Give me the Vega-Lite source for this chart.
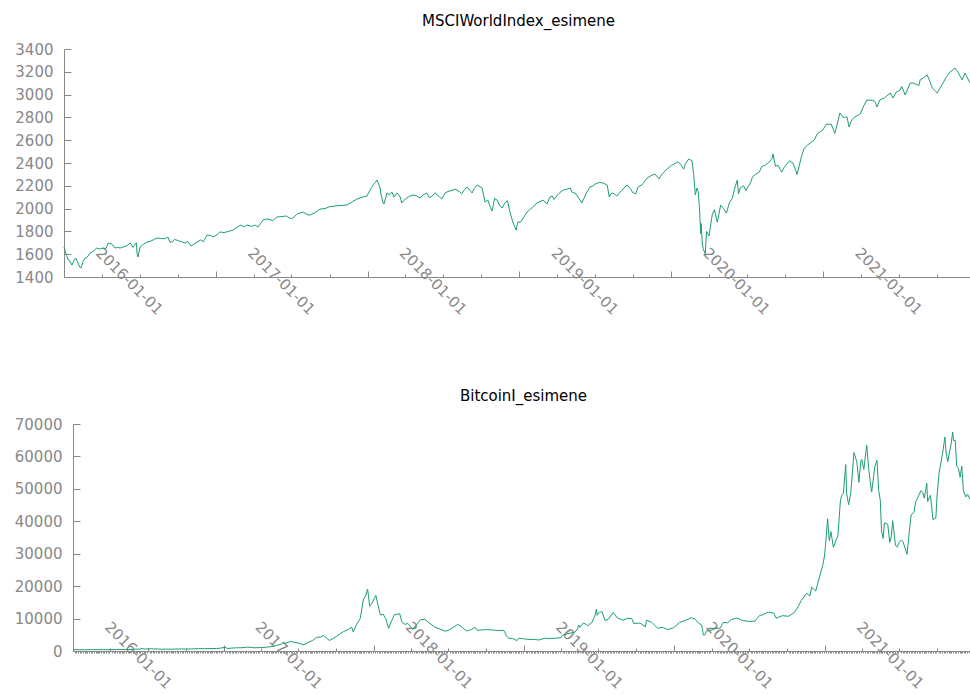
{
  "$schema": "https://vega.github.io/schema/vega-lite/v6.json",
  "padding": {"left": 14, "top": 14, "right": 0, "bottom": 0},
  "config": {
    "view": {"stroke": null},
    "font": "DejaVu Sans",
    "axis": {"labelColor": "#888888", "domainColor": "#888888", "tickColor": "#888888", "labelFontSize": 15, "grid": false, "title": null, "labelFont": "DejaVu Sans"},
    "title": {"fontSize": 15, "fontWeight": "normal", "color": "#000000", "font": "DejaVu Sans", "offset": 13}
  },
  "datasets": {
    "msci": [
      {"date": "2016-01-01", "value": 1663}, {"date": "2016-01-07", "value": 1590}, {"date": "2016-01-11", "value": 1549}, {"date": "2016-01-15", "value": 1540}, {"date": "2016-01-20", "value": 1505}, {"date": "2016-01-25", "value": 1545}, {"date": "2016-01-29", "value": 1567}, {"date": "2016-02-03", "value": 1530}, {"date": "2016-02-08", "value": 1485}, {"date": "2016-02-11", "value": 1479}, {"date": "2016-02-16", "value": 1535}, {"date": "2016-02-21", "value": 1567}, {"date": "2016-02-26", "value": 1575}, {"date": "2016-03-04", "value": 1610}, {"date": "2016-03-11", "value": 1625}, {"date": "2016-03-20", "value": 1654}, {"date": "2016-03-28", "value": 1645}, {"date": "2016-04-04", "value": 1654}, {"date": "2016-04-11", "value": 1650}, {"date": "2016-04-16", "value": 1698}, {"date": "2016-04-25", "value": 1690}, {"date": "2016-05-03", "value": 1654}, {"date": "2016-05-09", "value": 1660}, {"date": "2016-05-15", "value": 1654}, {"date": "2016-05-24", "value": 1665}, {"date": "2016-06-03", "value": 1680}, {"date": "2016-06-08", "value": 1700}, {"date": "2016-06-15", "value": 1660}, {"date": "2016-06-23", "value": 1700}, {"date": "2016-06-25", "value": 1600}, {"date": "2016-06-27", "value": 1575}, {"date": "2016-07-02", "value": 1663}, {"date": "2016-07-11", "value": 1690}, {"date": "2016-07-19", "value": 1707}, {"date": "2016-07-28", "value": 1715}, {"date": "2016-08-05", "value": 1730}, {"date": "2016-08-12", "value": 1742}, {"date": "2016-08-22", "value": 1738}, {"date": "2016-08-30", "value": 1735}, {"date": "2016-09-07", "value": 1750}, {"date": "2016-09-12", "value": 1705}, {"date": "2016-09-17", "value": 1707}, {"date": "2016-09-23", "value": 1730}, {"date": "2016-10-01", "value": 1720}, {"date": "2016-10-11", "value": 1707}, {"date": "2016-10-18", "value": 1698}, {"date": "2016-10-25", "value": 1712}, {"date": "2016-11-02", "value": 1672}, {"date": "2016-11-09", "value": 1690}, {"date": "2016-11-16", "value": 1707}, {"date": "2016-11-25", "value": 1725}, {"date": "2016-12-02", "value": 1710}, {"date": "2016-12-10", "value": 1768}, {"date": "2016-12-18", "value": 1765}, {"date": "2016-12-25", "value": 1750},
      {"date": "2017-01-03", "value": 1770}, {"date": "2017-01-10", "value": 1795}, {"date": "2017-01-20", "value": 1790}, {"date": "2017-01-31", "value": 1800}, {"date": "2017-02-11", "value": 1812}, {"date": "2017-02-20", "value": 1835}, {"date": "2017-03-01", "value": 1855}, {"date": "2017-03-10", "value": 1840}, {"date": "2017-03-16", "value": 1856}, {"date": "2017-03-27", "value": 1845}, {"date": "2017-04-05", "value": 1855}, {"date": "2017-04-12", "value": 1839}, {"date": "2017-04-24", "value": 1900}, {"date": "2017-05-05", "value": 1910}, {"date": "2017-05-17", "value": 1895}, {"date": "2017-05-27", "value": 1926}, {"date": "2017-06-06", "value": 1930}, {"date": "2017-06-19", "value": 1935}, {"date": "2017-06-29", "value": 1912}, {"date": "2017-07-05", "value": 1917}, {"date": "2017-07-14", "value": 1950}, {"date": "2017-07-29", "value": 1970}, {"date": "2017-08-10", "value": 1945}, {"date": "2017-08-15", "value": 1944}, {"date": "2017-08-25", "value": 1960}, {"date": "2017-09-08", "value": 1996}, {"date": "2017-09-20", "value": 2000}, {"date": "2017-10-02", "value": 2018}, {"date": "2017-10-20", "value": 2025}, {"date": "2017-11-12", "value": 2032}, {"date": "2017-11-25", "value": 2060}, {"date": "2017-12-06", "value": 2084}, {"date": "2017-12-18", "value": 2100}, {"date": "2017-12-30", "value": 2110},
      {"date": "2018-01-06", "value": 2160}, {"date": "2018-01-10", "value": 2185}, {"date": "2018-01-15", "value": 2210}, {"date": "2018-01-19", "value": 2230}, {"date": "2018-01-23", "value": 2251}, {"date": "2018-01-30", "value": 2189}, {"date": "2018-02-02", "value": 2120}, {"date": "2018-02-07", "value": 2049}, {"date": "2018-02-09", "value": 2040}, {"date": "2018-02-16", "value": 2137}, {"date": "2018-02-22", "value": 2120}, {"date": "2018-02-28", "value": 2145}, {"date": "2018-03-05", "value": 2100}, {"date": "2018-03-12", "value": 2137}, {"date": "2018-03-19", "value": 2110}, {"date": "2018-03-24", "value": 2049}, {"date": "2018-03-28", "value": 2070}, {"date": "2018-04-05", "value": 2093}, {"date": "2018-04-12", "value": 2110}, {"date": "2018-04-20", "value": 2119}, {"date": "2018-04-27", "value": 2115}, {"date": "2018-05-07", "value": 2093}, {"date": "2018-05-14", "value": 2120}, {"date": "2018-05-23", "value": 2137}, {"date": "2018-05-29", "value": 2095}, {"date": "2018-06-05", "value": 2110}, {"date": "2018-06-12", "value": 2140}, {"date": "2018-06-17", "value": 2119}, {"date": "2018-06-22", "value": 2105}, {"date": "2018-06-28", "value": 2085}, {"date": "2018-07-06", "value": 2137}, {"date": "2018-07-13", "value": 2150}, {"date": "2018-07-25", "value": 2163}, {"date": "2018-07-31", "value": 2170}, {"date": "2018-08-11", "value": 2145}, {"date": "2018-08-15", "value": 2130}, {"date": "2018-08-20", "value": 2160}, {"date": "2018-08-28", "value": 2189}, {"date": "2018-09-06", "value": 2150}, {"date": "2018-09-09", "value": 2137}, {"date": "2018-09-14", "value": 2175}, {"date": "2018-09-21", "value": 2207}, {"date": "2018-10-03", "value": 2181}, {"date": "2018-10-10", "value": 2058}, {"date": "2018-10-17", "value": 2075}, {"date": "2018-10-23", "value": 2010}, {"date": "2018-10-27", "value": 1979}, {"date": "2018-10-30", "value": 2030}, {"date": "2018-11-02", "value": 2090}, {"date": "2018-11-08", "value": 2075}, {"date": "2018-11-14", "value": 2030}, {"date": "2018-11-20", "value": 2005}, {"date": "2018-11-27", "value": 2049}, {"date": "2018-12-03", "value": 2070}, {"date": "2018-12-09", "value": 1970}, {"date": "2018-12-16", "value": 1882}, {"date": "2018-12-24", "value": 1812}, {"date": "2018-12-28", "value": 1882},
      {"date": "2019-01-03", "value": 1880}, {"date": "2019-01-07", "value": 1900}, {"date": "2019-01-19", "value": 1970}, {"date": "2019-01-25", "value": 1990}, {"date": "2019-02-01", "value": 2010}, {"date": "2019-02-12", "value": 2049}, {"date": "2019-02-27", "value": 2075}, {"date": "2019-03-08", "value": 2040}, {"date": "2019-03-15", "value": 2101}, {"date": "2019-03-21", "value": 2110}, {"date": "2019-03-25", "value": 2080}, {"date": "2019-04-05", "value": 2130}, {"date": "2019-04-16", "value": 2163}, {"date": "2019-04-25", "value": 2170}, {"date": "2019-05-03", "value": 2181}, {"date": "2019-05-08", "value": 2140}, {"date": "2019-05-15", "value": 2137}, {"date": "2019-05-24", "value": 2090}, {"date": "2019-05-31", "value": 2049}, {"date": "2019-06-12", "value": 2145}, {"date": "2019-06-20", "value": 2190}, {"date": "2019-06-28", "value": 2200}, {"date": "2019-07-02", "value": 2216}, {"date": "2019-07-12", "value": 2230}, {"date": "2019-07-21", "value": 2225}, {"date": "2019-07-31", "value": 2207}, {"date": "2019-08-05", "value": 2101}, {"date": "2019-08-09", "value": 2130}, {"date": "2019-08-14", "value": 2137}, {"date": "2019-08-23", "value": 2110}, {"date": "2019-08-31", "value": 2145}, {"date": "2019-09-04", "value": 2160}, {"date": "2019-09-17", "value": 2207}, {"date": "2019-09-26", "value": 2170}, {"date": "2019-10-01", "value": 2137}, {"date": "2019-10-08", "value": 2130}, {"date": "2019-10-13", "value": 2189}, {"date": "2019-10-23", "value": 2210}, {"date": "2019-11-04", "value": 2268}, {"date": "2019-11-14", "value": 2290}, {"date": "2019-11-23", "value": 2303}, {"date": "2019-12-03", "value": 2260}, {"date": "2019-12-05", "value": 2277}, {"date": "2019-12-12", "value": 2310}, {"date": "2019-12-20", "value": 2340},
      {"date": "2020-01-02", "value": 2380}, {"date": "2020-01-08", "value": 2390}, {"date": "2020-01-17", "value": 2410}, {"date": "2020-01-24", "value": 2390}, {"date": "2020-01-31", "value": 2345}, {"date": "2020-02-04", "value": 2390}, {"date": "2020-02-12", "value": 2435}, {"date": "2020-02-20", "value": 2420}, {"date": "2020-02-24", "value": 2300}, {"date": "2020-02-28", "value": 2120}, {"date": "2020-03-03", "value": 2180}, {"date": "2020-03-06", "value": 2150}, {"date": "2020-03-09", "value": 2010}, {"date": "2020-03-12", "value": 1780}, {"date": "2020-03-13", "value": 1870}, {"date": "2020-03-16", "value": 1690}, {"date": "2020-03-18", "value": 1650}, {"date": "2020-03-23", "value": 1602}, {"date": "2020-03-26", "value": 1800}, {"date": "2020-04-01", "value": 1760}, {"date": "2020-04-06", "value": 1880}, {"date": "2020-04-09", "value": 1950}, {"date": "2020-04-14", "value": 1990}, {"date": "2020-04-21", "value": 1880}, {"date": "2020-04-29", "value": 2030}, {"date": "2020-05-06", "value": 2000}, {"date": "2020-05-13", "value": 1960}, {"date": "2020-05-20", "value": 2050}, {"date": "2020-05-27", "value": 2090}, {"date": "2020-06-02", "value": 2180}, {"date": "2020-06-08", "value": 2250}, {"date": "2020-06-11", "value": 2130}, {"date": "2020-06-15", "value": 2180}, {"date": "2020-06-23", "value": 2200}, {"date": "2020-06-29", "value": 2160}, {"date": "2020-07-10", "value": 2230}, {"date": "2020-07-15", "value": 2280}, {"date": "2020-07-22", "value": 2300}, {"date": "2020-07-31", "value": 2320}, {"date": "2020-08-06", "value": 2370}, {"date": "2020-08-14", "value": 2380}, {"date": "2020-08-24", "value": 2410}, {"date": "2020-08-31", "value": 2440}, {"date": "2020-09-02", "value": 2480}, {"date": "2020-09-08", "value": 2370}, {"date": "2020-09-14", "value": 2380}, {"date": "2020-09-23", "value": 2320}, {"date": "2020-09-30", "value": 2370}, {"date": "2020-10-12", "value": 2420}, {"date": "2020-10-20", "value": 2400}, {"date": "2020-10-30", "value": 2300}, {"date": "2020-11-09", "value": 2450}, {"date": "2020-11-16", "value": 2530}, {"date": "2020-11-25", "value": 2560}, {"date": "2020-12-10", "value": 2600}, {"date": "2020-12-18", "value": 2660}, {"date": "2020-12-31", "value": 2690},
      {"date": "2021-01-08", "value": 2740}, {"date": "2021-01-20", "value": 2740}, {"date": "2021-01-29", "value": 2660}, {"date": "2021-02-10", "value": 2839}, {"date": "2021-02-18", "value": 2800}, {"date": "2021-02-27", "value": 2804}, {"date": "2021-03-04", "value": 2716}, {"date": "2021-03-11", "value": 2780}, {"date": "2021-03-18", "value": 2804}, {"date": "2021-03-31", "value": 2830}, {"date": "2021-04-08", "value": 2900}, {"date": "2021-04-16", "value": 2953}, {"date": "2021-04-30", "value": 2950}, {"date": "2021-05-05", "value": 2940}, {"date": "2021-05-10", "value": 2891}, {"date": "2021-05-17", "value": 2953}, {"date": "2021-05-28", "value": 2970}, {"date": "2021-06-11", "value": 3014}, {"date": "2021-06-18", "value": 2970}, {"date": "2021-06-25", "value": 3020}, {"date": "2021-07-05", "value": 3040}, {"date": "2021-07-09", "value": 3070}, {"date": "2021-07-17", "value": 2996}, {"date": "2021-07-29", "value": 3102}, {"date": "2021-08-06", "value": 3100}, {"date": "2021-08-19", "value": 3080}, {"date": "2021-08-22", "value": 3128}, {"date": "2021-08-31", "value": 3150}, {"date": "2021-09-08", "value": 3172}, {"date": "2021-09-14", "value": 3120}, {"date": "2021-09-20", "value": 3060}, {"date": "2021-09-28", "value": 3030}, {"date": "2021-10-02", "value": 3014}, {"date": "2021-10-08", "value": 3050}, {"date": "2021-10-16", "value": 3102}, {"date": "2021-10-25", "value": 3160}, {"date": "2021-11-02", "value": 3198}, {"date": "2021-11-08", "value": 3215}, {"date": "2021-11-14", "value": 3233}, {"date": "2021-11-21", "value": 3198}, {"date": "2021-12-01", "value": 3128}, {"date": "2021-12-08", "value": 3189}, {"date": "2021-12-20", "value": 3102}
    ],
    "btc": [
      {"date": "2016-01-01", "value": 430}, {"date": "2016-01-15", "value": 380}, {"date": "2016-02-01", "value": 375}, {"date": "2016-02-15", "value": 405}, {"date": "2016-03-01", "value": 430}, {"date": "2016-03-15", "value": 415}, {"date": "2016-04-01", "value": 415}, {"date": "2016-04-15", "value": 430}, {"date": "2016-05-01", "value": 450}, {"date": "2016-05-15", "value": 455}, {"date": "2016-05-28", "value": 530}, {"date": "2016-06-10", "value": 575}, {"date": "2016-06-17", "value": 750}, {"date": "2016-06-22", "value": 600}, {"date": "2016-07-01", "value": 675}, {"date": "2016-07-15", "value": 665}, {"date": "2016-08-02", "value": 545}, {"date": "2016-08-15", "value": 570}, {"date": "2016-09-01", "value": 575}, {"date": "2016-09-15", "value": 610}, {"date": "2016-10-01", "value": 615}, {"date": "2016-10-15", "value": 640}, {"date": "2016-11-01", "value": 730}, {"date": "2016-11-15", "value": 710}, {"date": "2016-12-01", "value": 755}, {"date": "2016-12-15", "value": 780}, {"date": "2016-12-25", "value": 890},
      {"date": "2017-01-04", "value": 1150}, {"date": "2017-01-11", "value": 780}, {"date": "2017-01-20", "value": 895}, {"date": "2017-02-01", "value": 990}, {"date": "2017-02-15", "value": 1010}, {"date": "2017-02-28", "value": 1190}, {"date": "2017-03-10", "value": 1100}, {"date": "2017-03-18", "value": 970}, {"date": "2017-04-01", "value": 1080}, {"date": "2017-04-15", "value": 1180}, {"date": "2017-05-01", "value": 1420}, {"date": "2017-05-10", "value": 1750}, {"date": "2017-05-20", "value": 2050}, {"date": "2017-05-25", "value": 2500}, {"date": "2017-06-01", "value": 2400}, {"date": "2017-06-12", "value": 2950}, {"date": "2017-06-20", "value": 2700}, {"date": "2017-07-01", "value": 2450}, {"date": "2017-07-15", "value": 1900}, {"date": "2017-07-25", "value": 2600}, {"date": "2017-08-05", "value": 3200}, {"date": "2017-08-15", "value": 4200}, {"date": "2017-08-25", "value": 4300}, {"date": "2017-09-01", "value": 4800}, {"date": "2017-09-15", "value": 3250}, {"date": "2017-09-25", "value": 3900}, {"date": "2017-10-01", "value": 4400}, {"date": "2017-10-12", "value": 5400}, {"date": "2017-10-20", "value": 6000}, {"date": "2017-11-01", "value": 6700}, {"date": "2017-11-08", "value": 7400}, {"date": "2017-11-12", "value": 5900}, {"date": "2017-11-20", "value": 8200}, {"date": "2017-11-29", "value": 10000}, {"date": "2017-12-07", "value": 16000}, {"date": "2017-12-12", "value": 17000}, {"date": "2017-12-17", "value": 19100}, {"date": "2017-12-22", "value": 13800}, {"date": "2017-12-28", "value": 14800},
      {"date": "2018-01-06", "value": 17200}, {"date": "2018-01-10", "value": 14900}, {"date": "2018-01-17", "value": 11100}, {"date": "2018-01-24", "value": 11300}, {"date": "2018-01-30", "value": 10000}, {"date": "2018-02-06", "value": 7000}, {"date": "2018-02-12", "value": 8900}, {"date": "2018-02-20", "value": 11200}, {"date": "2018-03-05", "value": 11500}, {"date": "2018-03-10", "value": 9000}, {"date": "2018-03-18", "value": 8200}, {"date": "2018-03-25", "value": 8500}, {"date": "2018-04-06", "value": 6600}, {"date": "2018-04-14", "value": 8000}, {"date": "2018-04-24", "value": 9600}, {"date": "2018-05-05", "value": 9800}, {"date": "2018-05-15", "value": 8700}, {"date": "2018-05-29", "value": 7400}, {"date": "2018-06-10", "value": 6800}, {"date": "2018-06-24", "value": 6100}, {"date": "2018-07-05", "value": 6600}, {"date": "2018-07-24", "value": 8200}, {"date": "2018-08-01", "value": 7600}, {"date": "2018-08-14", "value": 6200}, {"date": "2018-08-24", "value": 6500}, {"date": "2018-09-04", "value": 7300}, {"date": "2018-09-10", "value": 6300}, {"date": "2018-09-20", "value": 6500}, {"date": "2018-10-01", "value": 6600}, {"date": "2018-10-15", "value": 6500}, {"date": "2018-10-31", "value": 6300}, {"date": "2018-11-13", "value": 6350}, {"date": "2018-11-20", "value": 4600}, {"date": "2018-11-25", "value": 3900}, {"date": "2018-12-04", "value": 3900}, {"date": "2018-12-15", "value": 3200}, {"date": "2018-12-20", "value": 4000}, {"date": "2018-12-31", "value": 3750},
      {"date": "2019-01-10", "value": 3600}, {"date": "2019-01-25", "value": 3550}, {"date": "2019-02-07", "value": 3400}, {"date": "2019-02-20", "value": 3950}, {"date": "2019-03-01", "value": 3800}, {"date": "2019-03-15", "value": 3900}, {"date": "2019-04-01", "value": 4100}, {"date": "2019-04-05", "value": 4950}, {"date": "2019-04-23", "value": 5500}, {"date": "2019-05-05", "value": 5800}, {"date": "2019-05-11", "value": 6800}, {"date": "2019-05-14", "value": 8000}, {"date": "2019-05-17", "value": 7300}, {"date": "2019-05-26", "value": 8700}, {"date": "2019-06-05", "value": 7800}, {"date": "2019-06-15", "value": 8800}, {"date": "2019-06-22", "value": 10700}, {"date": "2019-06-26", "value": 12900}, {"date": "2019-06-28", "value": 11000}, {"date": "2019-07-03", "value": 11900}, {"date": "2019-07-10", "value": 12100}, {"date": "2019-07-17", "value": 9400}, {"date": "2019-07-25", "value": 9800}, {"date": "2019-08-06", "value": 11900}, {"date": "2019-08-15", "value": 10300}, {"date": "2019-08-29", "value": 9500}, {"date": "2019-09-10", "value": 10100}, {"date": "2019-09-20", "value": 10000}, {"date": "2019-09-25", "value": 8500}, {"date": "2019-10-10", "value": 8600}, {"date": "2019-10-23", "value": 7500}, {"date": "2019-10-26", "value": 9500}, {"date": "2019-11-08", "value": 8800}, {"date": "2019-11-22", "value": 7000}, {"date": "2019-12-03", "value": 7300}, {"date": "2019-12-17", "value": 6600}, {"date": "2019-12-31", "value": 7200},
      {"date": "2020-01-14", "value": 8800}, {"date": "2020-01-28", "value": 9400}, {"date": "2020-02-12", "value": 10300}, {"date": "2020-02-22", "value": 9700}, {"date": "2020-02-29", "value": 8600}, {"date": "2020-03-08", "value": 8000}, {"date": "2020-03-12", "value": 4900}, {"date": "2020-03-16", "value": 5000}, {"date": "2020-03-20", "value": 6200}, {"date": "2020-03-31", "value": 6400}, {"date": "2020-04-10", "value": 6900}, {"date": "2020-04-22", "value": 7100}, {"date": "2020-04-29", "value": 8800}, {"date": "2020-05-10", "value": 8700}, {"date": "2020-05-19", "value": 9700}, {"date": "2020-06-01", "value": 10200}, {"date": "2020-06-15", "value": 9400}, {"date": "2020-06-30", "value": 9140}, {"date": "2020-07-15", "value": 9200}, {"date": "2020-07-27", "value": 11000}, {"date": "2020-08-02", "value": 11100}, {"date": "2020-08-17", "value": 12000}, {"date": "2020-08-30", "value": 11700}, {"date": "2020-09-05", "value": 10100}, {"date": "2020-09-20", "value": 10900}, {"date": "2020-10-05", "value": 10700}, {"date": "2020-10-20", "value": 12000}, {"date": "2020-10-28", "value": 13600}, {"date": "2020-11-05", "value": 15600}, {"date": "2020-11-18", "value": 17800}, {"date": "2020-11-26", "value": 17000}, {"date": "2020-11-30", "value": 19700}, {"date": "2020-12-10", "value": 18500}, {"date": "2020-12-16", "value": 21300}, {"date": "2020-12-27", "value": 26400}, {"date": "2020-12-31", "value": 29000},
      {"date": "2021-01-03", "value": 32800}, {"date": "2021-01-08", "value": 40800}, {"date": "2021-01-12", "value": 34000}, {"date": "2021-01-16", "value": 36800}, {"date": "2021-01-22", "value": 32000}, {"date": "2021-01-29", "value": 34300}, {"date": "2021-02-02", "value": 35500}, {"date": "2021-02-08", "value": 46200}, {"date": "2021-02-11", "value": 47900}, {"date": "2021-02-15", "value": 48500}, {"date": "2021-02-21", "value": 57500}, {"date": "2021-02-23", "value": 48800}, {"date": "2021-02-28", "value": 45100}, {"date": "2021-03-05", "value": 48500}, {"date": "2021-03-13", "value": 61200}, {"date": "2021-03-20", "value": 58300}, {"date": "2021-03-25", "value": 52000}, {"date": "2021-03-30", "value": 58800}, {"date": "2021-04-01", "value": 59000}, {"date": "2021-04-06", "value": 56000}, {"date": "2021-04-13", "value": 63500}, {"date": "2021-04-18", "value": 56000}, {"date": "2021-04-22", "value": 51700}, {"date": "2021-04-25", "value": 49000}, {"date": "2021-05-03", "value": 57000}, {"date": "2021-05-08", "value": 58800}, {"date": "2021-05-12", "value": 49500}, {"date": "2021-05-16", "value": 46400}, {"date": "2021-05-19", "value": 37000}, {"date": "2021-05-23", "value": 34700}, {"date": "2021-05-26", "value": 39500}, {"date": "2021-06-03", "value": 39100}, {"date": "2021-06-08", "value": 33500}, {"date": "2021-06-12", "value": 35500}, {"date": "2021-06-15", "value": 40200}, {"date": "2021-06-22", "value": 32500}, {"date": "2021-06-26", "value": 32100}, {"date": "2021-07-01", "value": 33500}, {"date": "2021-07-06", "value": 34200}, {"date": "2021-07-10", "value": 33800}, {"date": "2021-07-15", "value": 31800}, {"date": "2021-07-20", "value": 29800}, {"date": "2021-07-26", "value": 37300}, {"date": "2021-07-30", "value": 42000}, {"date": "2021-08-06", "value": 42800}, {"date": "2021-08-10", "value": 46000}, {"date": "2021-08-14", "value": 47000}, {"date": "2021-08-23", "value": 49500}, {"date": "2021-08-27", "value": 49000}, {"date": "2021-08-31", "value": 47100}, {"date": "2021-09-06", "value": 51700}, {"date": "2021-09-08", "value": 46100}, {"date": "2021-09-15", "value": 48000}, {"date": "2021-09-21", "value": 40500}, {"date": "2021-09-28", "value": 41000}, {"date": "2021-10-01", "value": 48100}, {"date": "2021-10-06", "value": 55000}, {"date": "2021-10-15", "value": 61500}, {"date": "2021-10-20", "value": 66000}, {"date": "2021-10-23", "value": 61000}, {"date": "2021-10-27", "value": 58400}, {"date": "2021-10-31", "value": 61300}, {"date": "2021-11-03", "value": 62900}, {"date": "2021-11-08", "value": 67500}, {"date": "2021-11-10", "value": 64900}, {"date": "2021-11-14", "value": 65000}, {"date": "2021-11-18", "value": 56900}, {"date": "2021-11-22", "value": 56300}, {"date": "2021-11-26", "value": 53600}, {"date": "2021-11-30", "value": 57000}, {"date": "2021-12-04", "value": 49400}, {"date": "2021-12-10", "value": 47500}, {"date": "2021-12-14", "value": 48400}, {"date": "2021-12-20", "value": 46700}
    ]
  },
  "vconcat": [
    {
      "title": {"text": "MSCIWorldIndex_esimene", "dx": -3},
      "width": 897,
      "height": 228,
      "data": {"name": "msci"},
      "mark": {"type": "line", "color": "#1b9e77", "strokeWidth": 1, "clip": false},
      "encoding": {
        "x": {"field": "date", "type": "temporal",
          "scale": {"domain": [{"year": 2016, "month": 1, "date": 1}, {"year": 2021, "month": 12, "date": 20}], "nice": false, "range": [-9, 897]},
          "axis": {"tickCount": {"interval": "month", "step": 3}, "labelExpr": "month(datum.value) == 0 ? timeFormat(datum.value, '%Y-%m-%d') : ''",
            "tickSize": {"condition": {"test": "month(datum.value) == 0", "value": -6}, "value": -3},
            "labelAngle": 45, "labelAlign": "left", "labelBaseline": "top", "labelOverlap": false, "labelFlush": false, "labelOffset": 39, "labelPadding": -26}},
        "y": {"field": "value", "type": "quantitative",
          "scale": {"domain": [1400, 3400], "nice": false, "zero": false},
          "axis": {"values": [1400, 1600, 1800, 2000, 2200, 2400, 2600, 2800, 3000, 3200, 3400], "format": "d", "tickSize": -7, "labelPadding": 18, "offset": 9}}
      }
    },
    {
      "title": {"text": "BitcoinI_esimene", "dx": 2},
      "width": 897,
      "height": 227,
      "data": {"name": "btc"},
      "mark": {"type": "line", "color": "#1b9e77", "strokeWidth": 1, "clip": true},
      "encoding": {
        "x": {"field": "date", "type": "temporal",
          "scale": {"domain": [{"year": 2016, "month": 1, "date": 1}, {"year": 2021, "month": 12, "date": 20}], "nice": false},
          "axis": {"tickCount": {"interval": "day", "step": 4}, "labelExpr": "month(datum.value) == 0 && date(datum.value) == 1 ? timeFormat(datum.value, '%Y-%m-%d') : ''",
            "tickSize": {"condition": [{"test": "month(datum.value) == 0 && date(datum.value) == 1", "value": -6}, {"test": "month(datum.value) % 3 == 0 && date(datum.value) == 1", "value": -3}], "value": 2},
            "labelAngle": 45, "labelAlign": "left", "labelBaseline": "top", "labelOverlap": false, "labelFlush": false, "labelOffset": 39, "labelPadding": -26}},
        "y": {"field": "value", "type": "quantitative",
          "scale": {"domain": [0, 70000], "nice": false},
          "axis": {"values": [0, 10000, 20000, 30000, 40000, 50000, 60000, 70000], "format": "d", "tickSize": -7, "labelPadding": 18}}
      }
    }
  ],
  "spacing": 71
}
